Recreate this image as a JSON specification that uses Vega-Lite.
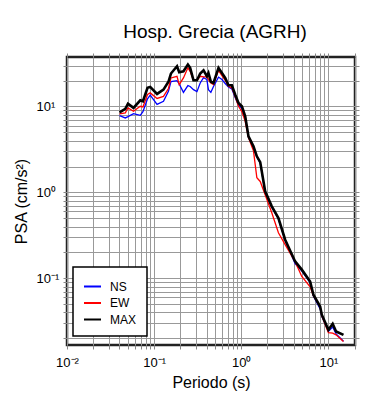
{
  "$schema": "https://vega.github.io/schema/vega-lite/v6.json",
  "width": 288,
  "height": 288,
  "autosize": "none",
  "padding": {"left": 67, "top": 57, "right": 35, "bottom": 55},
  "background": "white",
  "title": {"text": "Hosp. Grecia (AGRH)", "fontSize": 19, "font": "Liberation Sans", "fontWeight": "normal", "color": "black", "baseline": "alphabetic", "offset": 17, "anchor": "middle", "dx": 4, "dy": 21},
  "config": {"view": {"stroke": "#222222", "strokeWidth": 2.5}, "font": "Liberation Sans", "legend": {"strokeWidth": 1.5}},
  "datasets": {
    "psa": [
      {"T":0.0401,"c":"NS","v":7.83},{"T":0.0467,"c":"NS","v":7.36},{"T":0.0501,"c":"NS","v":7.62},{"T":0.058,"c":"NS","v":8.27},{"T":0.0693,"c":"NS","v":7.9},{"T":0.0744,"c":"NS","v":8.72},{"T":0.084,"c":"NS","v":12.3},{"T":0.0902,"c":"NS","v":13.6},{"T":0.108,"c":"NS","v":10.6},{"T":0.128,"c":"NS","v":11.5},{"T":0.146,"c":"NS","v":15.0},{"T":0.156,"c":"NS","v":19.5},{"T":0.183,"c":"NS","v":20.0},{"T":0.194,"c":"NS","v":18.3},{"T":0.217,"c":"NS","v":14.6},{"T":0.244,"c":"NS","v":17.5},{"T":0.259,"c":"NS","v":17.1},{"T":0.283,"c":"NS","v":15.7},{"T":0.31,"c":"NS","v":14.9},{"T":0.338,"c":"NS","v":18.8},{"T":0.369,"c":"NS","v":21.7},{"T":0.403,"c":"NS","v":20.6},{"T":0.42,"c":"NS","v":15.7},{"T":0.448,"c":"NS","v":14.6},{"T":0.48,"c":"NS","v":17.1},{"T":0.548,"c":"NS","v":22.0},{"T":0.6,"c":"NS","v":20.6},{"T":0.654,"c":"NS","v":18.5},{"T":0.713,"c":"NS","v":16.9},{"T":0.78,"c":"NS","v":16.0},{"T":0.851,"c":"NS","v":12.7},{"T":0.929,"c":"NS","v":10.4},{"T":1.016,"c":"NS","v":9.5},{"T":1.11,"c":"NS","v":7.4},{"T":1.21,"c":"NS","v":4.4},{"T":1.38,"c":"NS","v":3.35},{"T":1.51,"c":"NS","v":2.58},{"T":1.65,"c":"NS","v":2.2},{"T":1.88,"c":"NS","v":1.0},{"T":2.24,"c":"NS","v":0.67},{"T":2.67,"c":"NS","v":0.49},{"T":3.19,"c":"NS","v":0.275},{"T":4.15,"c":"NS","v":0.148},{"T":4.95,"c":"NS","v":0.122},{"T":6.17,"c":"NS","v":0.089},{"T":6.73,"c":"NS","v":0.062},{"T":8.04,"c":"NS","v":0.044},{"T":8.4,"c":"NS","v":0.036},{"T":10.0,"c":"NS","v":0.024},{"T":11.2,"c":"NS","v":0.027},{"T":12.25,"c":"NS","v":0.0225},{"T":14.9,"c":"NS","v":0.0185},
      {"T":0.0401,"c":"EW","v":8.2},{"T":0.0467,"c":"EW","v":8.42},{"T":0.0501,"c":"EW","v":9.63},{"T":0.058,"c":"EW","v":8.79},{"T":0.0693,"c":"EW","v":10.05},{"T":0.0744,"c":"EW","v":9.89},{"T":0.084,"c":"EW","v":13.8},{"T":0.0902,"c":"EW","v":14.4},{"T":0.108,"c":"EW","v":12.4},{"T":0.128,"c":"EW","v":13.1},{"T":0.146,"c":"EW","v":16.2},{"T":0.156,"c":"EW","v":21.5},{"T":0.183,"c":"EW","v":22.5},{"T":0.194,"c":"EW","v":18.0},{"T":0.217,"c":"EW","v":21.5},{"T":0.244,"c":"EW","v":28.2},{"T":0.259,"c":"EW","v":25.7},{"T":0.283,"c":"EW","v":20.2},{"T":0.31,"c":"EW","v":20.2},{"T":0.338,"c":"EW","v":22.5},{"T":0.369,"c":"EW","v":22.1},{"T":0.403,"c":"EW","v":22.1},{"T":0.42,"c":"EW","v":20.6},{"T":0.448,"c":"EW","v":18.8},{"T":0.48,"c":"EW","v":18.0},{"T":0.548,"c":"EW","v":26.4},{"T":0.6,"c":"EW","v":22.9},{"T":0.654,"c":"EW","v":20.2},{"T":0.713,"c":"EW","v":17.2},{"T":0.78,"c":"EW","v":16.5},{"T":0.851,"c":"EW","v":13.1},{"T":0.929,"c":"EW","v":10.05},{"T":1.016,"c":"EW","v":8.72},{"T":1.11,"c":"EW","v":6.72},{"T":1.21,"c":"EW","v":4.34},{"T":1.38,"c":"EW","v":3.06},{"T":1.51,"c":"EW","v":1.48},{"T":1.65,"c":"EW","v":1.34},{"T":1.88,"c":"EW","v":0.94},{"T":2.24,"c":"EW","v":0.58},{"T":2.67,"c":"EW","v":0.339},{"T":3.19,"c":"EW","v":0.246},{"T":4.15,"c":"EW","v":0.156},{"T":4.95,"c":"EW","v":0.105},{"T":6.17,"c":"EW","v":0.0796},{"T":6.73,"c":"EW","v":0.0625},{"T":8.04,"c":"EW","v":0.0466},{"T":8.4,"c":"EW","v":0.0366},{"T":10.0,"c":"EW","v":0.0232},{"T":11.2,"c":"EW","v":0.0229},{"T":12.25,"c":"EW","v":0.0219},{"T":14.9,"c":"EW","v":0.0183},
      {"T":0.0401,"c":"MAX","v":8.56},{"T":0.0467,"c":"MAX","v":9.38},{"T":0.0501,"c":"MAX","v":10.8},{"T":0.058,"c":"MAX","v":9.63},{"T":0.0693,"c":"MAX","v":11.8},{"T":0.0744,"c":"MAX","v":11.5},{"T":0.084,"c":"MAX","v":16.5},{"T":0.0902,"c":"MAX","v":16.9},{"T":0.108,"c":"MAX","v":14.0},{"T":0.128,"c":"MAX","v":15.7},{"T":0.146,"c":"MAX","v":19.4},{"T":0.156,"c":"MAX","v":24.2},{"T":0.183,"c":"MAX","v":29.4},{"T":0.194,"c":"MAX","v":25.0},{"T":0.217,"c":"MAX","v":25.7},{"T":0.244,"c":"MAX","v":30.8},{"T":0.259,"c":"MAX","v":28.2},{"T":0.283,"c":"MAX","v":20.2},{"T":0.31,"c":"MAX","v":20.2},{"T":0.338,"c":"MAX","v":24.2},{"T":0.369,"c":"MAX","v":26.4},{"T":0.403,"c":"MAX","v":22.5},{"T":0.42,"c":"MAX","v":24.6},{"T":0.448,"c":"MAX","v":19.4},{"T":0.48,"c":"MAX","v":18.8},{"T":0.548,"c":"MAX","v":28.2},{"T":0.6,"c":"MAX","v":24.6},{"T":0.654,"c":"MAX","v":21.5},{"T":0.713,"c":"MAX","v":17.7},{"T":0.78,"c":"MAX","v":17.7},{"T":0.851,"c":"MAX","v":13.8},{"T":0.929,"c":"MAX","v":11.0},{"T":1.016,"c":"MAX","v":10.05},{"T":1.11,"c":"MAX","v":7.69},{"T":1.21,"c":"MAX","v":4.49},{"T":1.38,"c":"MAX","v":3.44},{"T":1.51,"c":"MAX","v":2.63},{"T":1.65,"c":"MAX","v":2.25},{"T":1.88,"c":"MAX","v":1.03},{"T":2.24,"c":"MAX","v":0.687},{"T":2.67,"c":"MAX","v":0.503},{"T":3.19,"c":"MAX","v":0.281},{"T":4.15,"c":"MAX","v":0.157},{"T":4.95,"c":"MAX","v":0.126},{"T":6.17,"c":"MAX","v":0.0918},{"T":6.73,"c":"MAX","v":0.0643},{"T":8.04,"c":"MAX","v":0.0469},{"T":8.4,"c":"MAX","v":0.0376},{"T":10.0,"c":"MAX","v":0.0251},{"T":11.2,"c":"MAX","v":0.0295},{"T":12.25,"c":"MAX","v":0.024},{"T":14.9,"c":"MAX","v":0.0219}
    ]
  },
  "data": {"name": "psa"},
  "layer": [
    {
      "transform": [{"filter": "datum.c != 'MAX'"}],
      "mark": {"type": "line", "strokeWidth": 1.3, "clip": true},
      "encoding": {
        "x": {
          "field": "T", "type": "quantitative",
          "scale": {"type": "log", "domain": [0.01, 20.2], "nice": false},
          "axis": {
            "orient": "bottom",
            "values": [0.01,0.02,0.03,0.04,0.05,0.06,0.07,0.08,0.09,0.1,0.2,0.3,0.4,0.5,0.6,0.7,0.8,0.9,1,2,3,4,5,6,7,8,9,10,20],
            "grid": true, "gridColor": "#999999", "gridWidth": 1, "gridOpacity": 1,
            "domain": false, "ticks": true, "tickColor": "#888888", "tickSize": 4,
            "labelExpr": "datum.value == 0.01 ? '10⁻²' : datum.value == 0.1 ? '10⁻¹' : datum.value == 1 ? '10⁰' : datum.value == 10 ? '10¹' : ''",
            "labelFontSize": 13, "labelColor": "black", "labelPadding": 7, "labelFlush": false, "labelOverlap": false, "labelBound": false,
            "title": "Periodo (s)", "titleFontSize": 16, "titleFontWeight": "normal", "titleColor": "black", "titleBaseline": "alphabetic", "titleY": 42
          }
        },
        "y": {
          "field": "v", "type": "quantitative",
          "scale": {"type": "log", "domain": [0.0167, 37.7], "nice": false},
          "axis": {
            "orient": "left",
            "values": [0.02,0.03,0.04,0.05,0.06,0.07,0.08,0.09,0.1,0.2,0.3,0.4,0.5,0.6,0.7,0.8,0.9,1,2,3,4,5,6,7,8,9,10,20,30],
            "grid": true, "gridColor": "#999999", "gridWidth": 1, "gridOpacity": 1,
            "domain": false, "ticks": true, "tickColor": "#888888", "tickSize": 4,
            "labelExpr": "datum.value == 0.1 ? '10⁻¹' : datum.value == 1 ? '10⁰' : datum.value == 10 ? '10¹' : ''",
            "labelFontSize": 13, "labelColor": "black", "labelAlign": "left", "labelBaseline": "middle", "labelPadding": 27, "labelOverlap": false, "labelBound": false, "labelFlush": false,
            "title": "PSA (cm/s²)", "titleFontSize": 16, "titleFontWeight": "normal", "titleColor": "black", "titleBaseline": "alphabetic", "titleAngle": 270, "titleX": -41
          }
        },
        "color": {
          "field": "c", "type": "nominal",
          "scale": {"domain": ["NS", "EW", "MAX"], "range": ["#0000ff", "#ff0000", "#000000"]},
          "legend": {
            "orient": "none", "legendX": 6, "legendY": 210, "title": null, "padding": 10,
            "strokeColor": "black", "fillColor": "white",
            "symbolType": "stroke", "symbolSize": 289, "symbolStrokeWidth": 2,
            "labelFontSize": 12, "labelColor": "black", "labelOffset": 8, "rowPadding": 0.5,
            "labelExpr": "datum.label + '\u00a0\u00a0\u00a0'"
          }
        }
      }
    },
    {
      "transform": [{"filter": "datum.c == 'MAX'"}],
      "mark": {"type": "line", "strokeWidth": 2.6, "clip": true},
      "encoding": {
        "x": {
          "field": "T", "type": "quantitative",
          "scale": {"type": "log", "domain": [0.01, 20.2], "nice": false},
          "axis": {
            "orient": "top",
            "values": [0.01,0.02,0.03,0.04,0.05,0.06,0.07,0.08,0.09,0.1,0.2,0.3,0.4,0.5,0.6,0.7,0.8,0.9,1,2,3,4,5,6,7,8,9,10,20],
            "grid": false, "domain": false, "labels": false, "ticks": true, "tickColor": "#888888", "tickSize": 4, "title": null
          }
        },
        "y": {
          "field": "v", "type": "quantitative",
          "scale": {"type": "log", "domain": [0.0167, 37.7], "nice": false},
          "axis": {
            "orient": "right",
            "values": [0.02,0.03,0.04,0.05,0.06,0.07,0.08,0.09,0.1,0.2,0.3,0.4,0.5,0.6,0.7,0.8,0.9,1,2,3,4,5,6,7,8,9,10,20,30],
            "grid": false, "domain": false, "labels": false, "ticks": true, "tickColor": "#888888", "tickSize": 4, "title": null
          }
        },
        "color": {
          "field": "c", "type": "nominal",
          "scale": {"domain": ["NS", "EW", "MAX"], "range": ["#0000ff", "#ff0000", "#000000"]}
        }
      }
    }
  ],
  "resolve": {"axis": {"x": "independent", "y": "independent"}}
}
